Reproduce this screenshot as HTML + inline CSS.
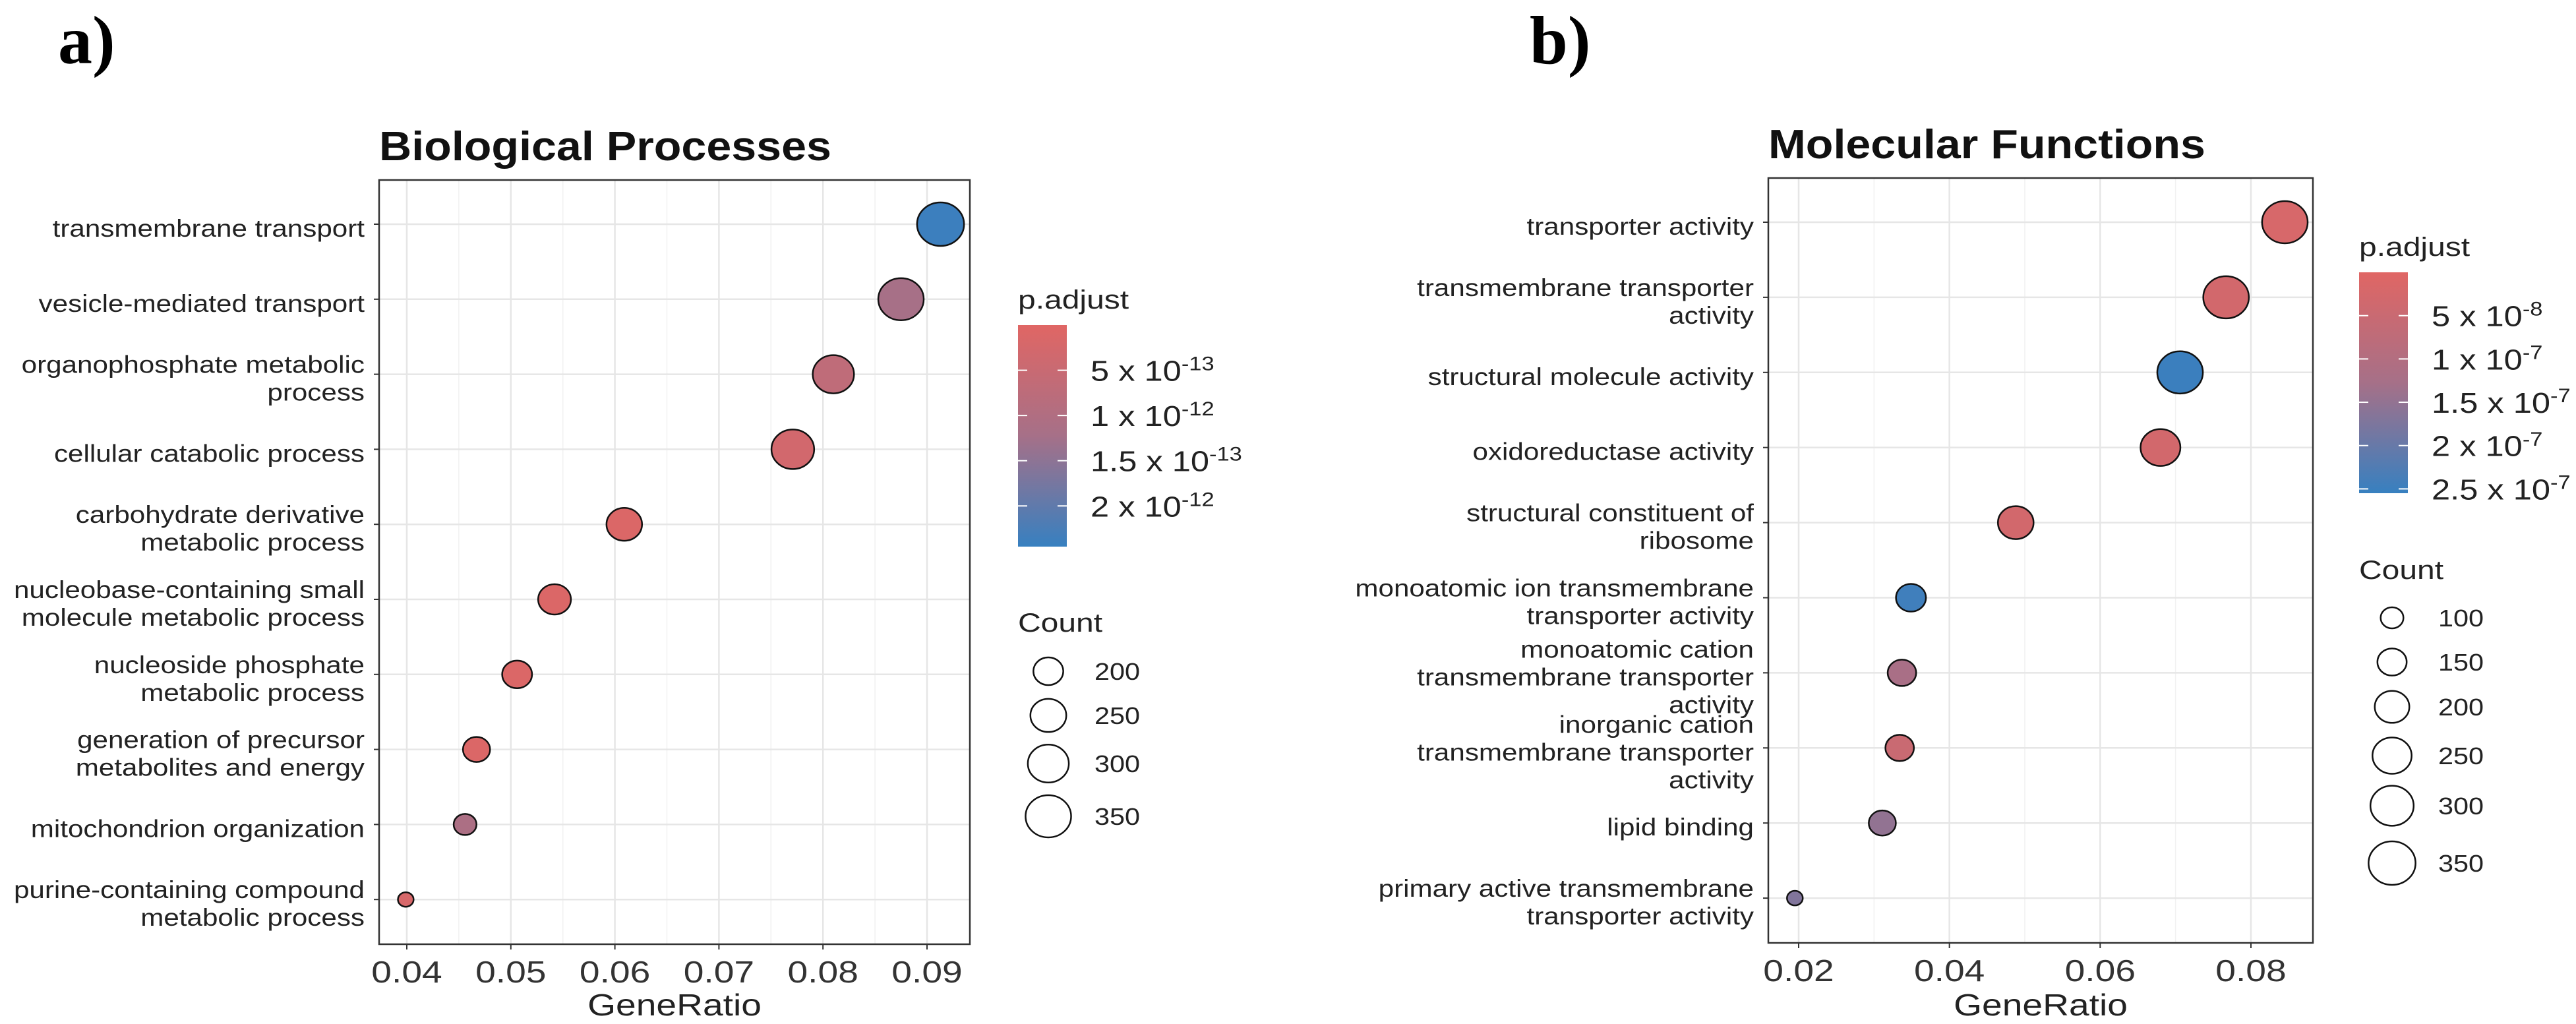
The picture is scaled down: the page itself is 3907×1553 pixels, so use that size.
<!DOCTYPE html>
<html><head><meta charset="utf-8"><style>
html,body{margin:0;padding:0;background:#fff;}
svg{display:block;font-family:"Liberation Sans",Arial,sans-serif;}
</style></head><body>
<svg id="fig" width="3907" height="1553" viewBox="0 0 3907 1553" xmlns="http://www.w3.org/2000/svg">
<rect width="3907" height="1553" fill="#fff"/>
<text x="88" y="96" font-family="Liberation Serif,serif" font-weight="bold" font-size="104">a)</text>
<text x="2320" y="96" font-family="Liberation Serif,serif" font-weight="bold" font-size="104">b)</text>
</svg>
<script>
// ---------- Panel A data ----------
const catsA = [["transmembrane transport"],["vesicle-mediated transport"],["organophosphate metabolic","process"],["cellular catabolic process"],["carbohydrate derivative","metabolic process"],["nucleobase-containing small","molecule metabolic process"],["nucleoside phosphate","metabolic process"],["generation of precursor","metabolites and energy"],["mitochondrion organization"],["purine-containing compound","metabolic process"]];
const ratioA = [0.0913,0.0875,0.0810,0.0771,0.0609,0.0542,0.0506,0.0467,0.0456,0.0399];
const countA = [367,349,303,318,247,223,200,180,153,118];
const padjA = [2.4,1.2,0.7,0.3,0.1,0.1,0.1,0.1,1.1,0.2];
const xTicksA = [0.04,0.05,0.06,0.07,0.08,0.09];
const xTickLabelsA = ["0.04","0.05","0.06","0.07","0.08","0.09"];
const cbTicksA = [0.5,1,1.5,2];
const cbLabelsA = [["5 x 10","-13"],["1 x 10","-12"],["1.5 x 10","-13"],["2 x 10","-12"]];
const legCountA = [200,250,300,350];
// ---------- Panel B data ----------
const catsB = [["transporter activity"],["transmembrane transporter","activity"],["structural molecule activity"],["oxidoreductase activity"],["structural constituent of","ribosome"],["monoatomic ion transmembrane","transporter activity"],["monoatomic cation","transmembrane transporter","activity"],["inorganic cation","transmembrane transporter","activity"],["lipid binding"],["primary active transmembrane","transporter activity"]];
const ratioB = [0.0845,0.0767,0.0706,0.0680,0.0488,0.0349,0.0337,0.0334,0.0311,0.0195];
const countB = [331,331,331,258,211,156,143,143,132,60];
const padjB = [0.2,0.3,2.5,0.3,0.3,2.45,1.2,0.5,1.5,1.7];
const xTicksB = [0.02,0.04,0.06,0.08];
const xTickLabelsB = ["0.02","0.04","0.06","0.08"];
const cbTicksB = [0.5,1,1.5,2,2.5];
const cbLabelsB = [["5 x 10","-8"],["1 x 10","-7"],["1.5 x 10","-7"],["2 x 10","-7"],["2.5 x 10","-7"]];
const legCountB = [100,150,200,250,300,350];

const NS="http://www.w3.org/2000/svg";
const svg=document.getElementById('fig');
function mk(tag,attrs,parent){const e=document.createElementNS(NS,tag);for(const k in attrs)e.setAttribute(k,attrs[k]);(parent||svg).appendChild(e);return e;}
const RED=[224,102,100], MID=[166,112,136], BLUE=[55,128,192];
function colorOf(p,pmin,pmax){let t=(p-pmin)/(pmax-pmin);t=Math.max(0,Math.min(1,t));
 let A,B,u; if(t<0.5){A=RED;B=MID;u=t*2;}else{A=MID;B=BLUE;u=(t-0.5)*2;}
 const c=A.map((v,i)=>Math.round(v+(B[i]-v)*u));return `rgb(${c[0]},${c[1]},${c[2]})`;}

function panel(cfg){
 const g=mk('g',{});
 
 
 const X=v=>cfg.x0+(v-cfg.v0)*cfg.pxPerUnit;
 const Y=i=>cfg.yTop+i*cfg.yStep;
 const R=c=>Math.sqrt(Math.max(30,cfg.a0+(c-cfg.c0)*cfg.slope));
 const t=mk('text',{transform:`translate(${cfg.fl},${cfg.ft-30}) scale(1.1,1)`,'font-size':62,'font-weight':'bold',fill:'#111'},g);
 t.textContent=cfg.title;
 
 
 for(let k=0;k<cfg.xTicks.length+1;k++){
  const v=cfg.xTicks[0]+(k-0.5)*cfg.step;
  const x=X(v); if(x<=cfg.fl||x>=cfg.fr)continue;
  const l=mk('line',{x1:x,x2:x,y1:cfg.ft,y2:cfg.fb,stroke:'#f1f1f1','stroke-width':1.5},g);
  
  
 }
 cfg.xTicks.forEach(v=>{const x=X(v);
  const l=mk('line',{x1:x,x2:x,y1:cfg.ft,y2:cfg.fb,stroke:'#e6e6e6','stroke-width':2.5},g);
  
  });
 cfg.cats.forEach((c,i)=>{const y=Y(i);
  const l=mk('line',{x1:cfg.fl,x2:cfg.fr,y1:y,y2:y,stroke:'#e6e6e6','stroke-width':2.5},g);
  
  });
 const fr=mk('rect',{x:cfg.fl,y:cfg.ft,width:cfg.fr-cfg.fl,height:cfg.fb-cfg.ft,fill:'none',stroke:'#333','stroke-width':2.5},g);
 
 
 cfg.cats.forEach((lines,i)=>{const y=Y(i);
  const tk=mk('line',{x1:cfg.fl-8,x2:cfg.fl,y1:y,y2:y,stroke:'#333','stroke-width':2},g);
  
  
  const n=lines.length;
  lines.forEach((s,j)=>{const cy=y+6+(j-(n-1)/2)*42;
   const tx=mk('text',{transform:`translate(${cfg.fl-22},${cy+13}) scale(1.14,1)`,'text-anchor':'end','font-size':37,fill:'#222'},g);
   tx.textContent=s;
   
   });
 });
 cfg.xTicks.forEach((v,k)=>{const x=X(v);
  const tk=mk('line',{x1:x,x2:x,y1:cfg.fb,y2:cfg.fb+8,stroke:'#333','stroke-width':2},g);
  
  
  const tx=mk('text',{transform:`translate(${x},${cfg.fb+58}) scale(1.2,1)`,'text-anchor':'middle','font-size':46,fill:'#333'},g);
  tx.textContent=cfg.xLabels[k];
  
  });
 const xt=mk('text',{transform:`translate(${(cfg.fl+cfg.fr)/2},1540) scale(1.2,1)`,'text-anchor':'middle','font-size':46,fill:'#222'},g);
 xt.textContent='GeneRatio';
 
 
 cfg.ratio.forEach((v,i)=>{
  const d=mk('ellipse',{cx:X(v),cy:Y(i),rx:R(cfg.count[i])*1.08,ry:R(cfg.count[i]),fill:colorOf(cfg.padj[i],cfg.pmin,cfg.pmax),stroke:'#111','stroke-width':2.5},g);
  
  
 });
 const pl=mk('text',{transform:`translate(${cfg.lx},${cfg.cbTop-25}) scale(1.2,1)`,'font-size':40,fill:'#222'},g);
 pl.textContent='p.adjust';
 
 
 const defs=mk('defs',{},g);
 const gr=mk('linearGradient',{id:cfg.name+'-grad',x1:0,y1:0,x2:0,y2:1},defs);
 [0,0.25,0.5,0.75,1].forEach(o=>mk('stop',{offset:o,'stop-color':colorOf(cfg.pmin+o*(cfg.pmax-cfg.pmin),cfg.pmin,cfg.pmax)},gr));
 const cb=mk('rect',{x:cfg.lx,y:cfg.cbTop,width:74,height:cfg.cbBot-cfg.cbTop,fill:`url(#${cfg.name}-grad)`},g);
 
 
 const CY=p=>cfg.cbTop+(p-cfg.pmin)/(cfg.pmax-cfg.pmin)*(cfg.cbBot-cfg.cbTop);
 cfg.cbTicks.forEach((p,k)=>{const y=CY(p);
  mk('line',{x1:cfg.lx,x2:cfg.lx+14,y1:y,y2:y,stroke:'#fff','stroke-width':2},g);
  mk('line',{x1:cfg.lx+60,x2:cfg.lx+74,y1:y,y2:y,stroke:'#fff','stroke-width':2},g);
  const tx=mk('text',{transform:`translate(${cfg.lx+110},${y+16}) scale(1.15,1)`,'font-size':44,fill:'#222'},g);
  
  
  const a=document.createElementNS(NS,'tspan');a.textContent=cfg.cbLabels[k][0];tx.appendChild(a);
  const b=document.createElementNS(NS,'tspan');b.textContent=cfg.cbLabels[k][1];b.setAttribute('dy','-16');b.setAttribute('font-size','30');tx.appendChild(b);
 });
 const ct=mk('text',{transform:`translate(${cfg.lx},${cfg.countTitleY}) scale(1.2,1)`,'font-size':40,fill:'#222'},g);
 ct.textContent='Count';
 
 
 cfg.legCount.forEach((c,k)=>{const y=cfg.legY[k];const r=R(c);
  const e=mk('ellipse',{cx:cfg.lx+cfg.legDX,cy:y,rx:r*1.08,ry:r,fill:'none',stroke:'#111','stroke-width':2.5},g);
  
  
  const tx=mk('text',{transform:`translate(${cfg.lx+cfg.legDX+70},${y+13}) scale(1.15,1)`,'font-size':36,fill:'#222'},g);
  tx.textContent=String(c);
  
  });
}

panel({name:'panel-a-biological-processes',title:'Biological Processes',cats:catsA,ratio:ratioA,count:countA,padj:padjA,
 xTicks:xTicksA,xLabels:xTickLabelsA,step:0.01,v0:0.04,x0:617,pxPerUnit:15780,
 fl:575,fr:1471,ft:273,fb:1432,yTop:340,yStep:113.8,
 a0:121,c0:118,slope:3.887,pmin:0,pmax:2.45,
 lx:1544,cbTop:493,cbBot:829,cbTicks:cbTicksA,cbLabels:cbLabelsA,
 countTitleY:958,legCount:legCountA,legY:[1018,1085,1158,1238],legDX:46});
panel({name:'panel-b-molecular-functions',title:'Molecular Functions',cats:catsB,ratio:ratioB,count:countB,padj:padjB,
 xTicks:xTicksB,xLabels:xTickLabelsB,step:0.02,v0:0.02,x0:2728,pxPerUnit:11433,
 fl:2682,fr:3508,ft:270,fb:1430,yTop:337,yStep:113.9,
 a0:256,c0:100,slope:3.33,pmin:0,pmax:2.55,
 lx:3578,cbTop:413,cbBot:748,cbTicks:cbTicksB,cbLabels:cbLabelsB,
 countTitleY:878,legCount:legCountB,legY:[937,1004,1072,1146,1222,1309],legDX:50});
</script>
</body></html>
